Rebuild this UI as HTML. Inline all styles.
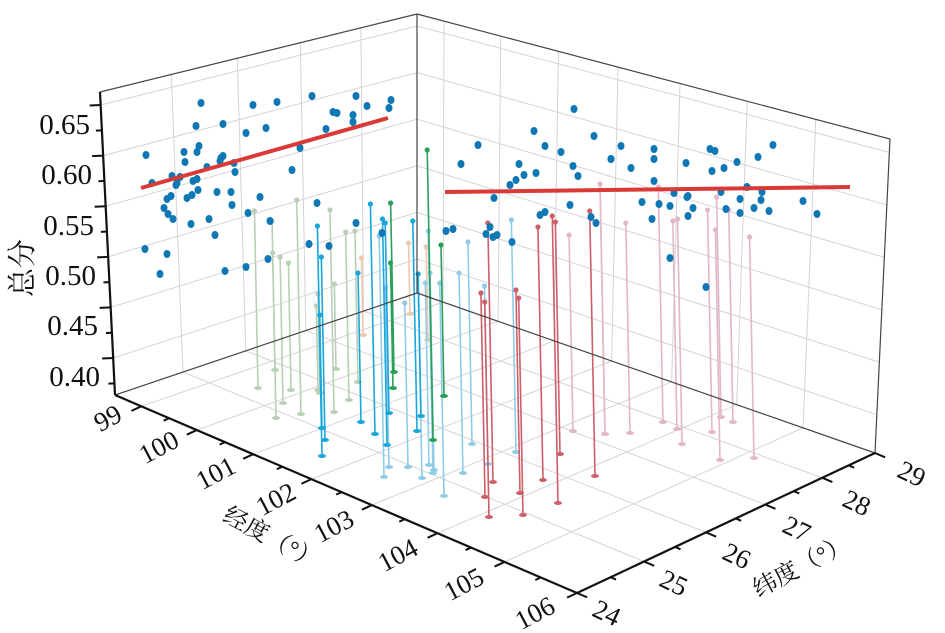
<!DOCTYPE html>
<html><head><meta charset="utf-8"><style>
html,body{margin:0;padding:0;background:#fff;}
svg{display:block;}
text{font-family:"Liberation Serif","Noto Serif CJK SC",serif;fill:#111;}
</style></head><body>
<svg id="s" width="945" height="633" viewBox="0 0 945 633" xmlns="http://www.w3.org/2000/svg">
<g id="grid"></g><g id="stems"></g><g id="dots"></g><g id="axes"></g>
<line x1="141" y1="188" x2="388" y2="118" stroke="#d93a35" stroke-width="4"/>
<line x1="445" y1="192" x2="850" y2="187" stroke="#d93a35" stroke-width="4"/>
<g font-size="29" text-anchor="end">
<text x="90" y="134" transform="translate(0,0)">0.65</text>
<text x="92" y="184">0.60</text>
<text x="94" y="235">0.55</text>
<text x="96" y="285">0.50</text>
<text x="98" y="335">0.45</text>
<text x="100" y="386">0.40</text>
</g>
<text transform="translate(32,268) rotate(-90)" font-size="29" text-anchor="middle">总分</text>
<g font-size="27" text-anchor="middle">
<text transform="translate(112,426) rotate(-28)">99</text>
<text transform="translate(163,455) rotate(-28)">100</text>
<text transform="translate(220,481) rotate(-28)">101</text>
<text transform="translate(280,507) rotate(-28)">102</text>
<text transform="translate(338,534) rotate(-28)">103</text>
<text transform="translate(402,563) rotate(-28)">104</text>
<text transform="translate(468,592) rotate(-28)">105</text>
<text transform="translate(539,621) rotate(-28)">106</text>
<text transform="translate(603,621) rotate(25)">24</text>
<text transform="translate(670,591) rotate(25)">25</text>
<text transform="translate(733,564) rotate(25)">26</text>
<text transform="translate(793,537) rotate(25)">27</text>
<text transform="translate(853,511) rotate(25)">28</text>
<text transform="translate(908,482) rotate(25)">29</text>
</g>
<text transform="translate(268,545) rotate(28)" font-size="24" text-anchor="middle">经度（°）</text>
<text transform="translate(805,573) rotate(-28)" font-size="24" text-anchor="middle">纬度（°）</text>
</svg>
<script>
var NS="http://www.w3.org/2000/svg";
function el(p,t,a){var e=document.createElementNS(NS,t);for(var k in a)e.setAttribute(k,a[k]);document.getElementById(p).appendChild(e);return e;}
var L=[115,395],F=[577,593],B=[417,293],R=[875,453];
var TL=[100,92],TF=[575,235],TB=[417,14],TR=[890,139];
function bl(a,b,c,d,u,w){return [a[0]*(1-u)*(1-w)+b[0]*u*(1-w)+c[0]*(1-u)*w+d[0]*u*w, a[1]*(1-u)*(1-w)+b[1]*u*(1-w)+c[1]*(1-u)*w+d[1]*u*w];}
function P(u,w,f){var a=bl(L,F,B,R,u,w),b=bl(TL,TF,TB,TR,u,w);return [a[0]+(b[0]-a[0])*f,a[1]+(b[1]-a[1])*f];}
var UF=[0,.057,.177,.299,.425,.556,.698,.843,1];
var WF=[0,.225,.433,.632,.823,1];
function zf(v){return 0.122+(v-0.40)/0.05*0.167;}
var ZV=[0.40,0.45,0.50,0.55,0.60,0.65];
function ln(g,p,q,c,w){el(g,"line",{x1:p[0],y1:p[1],x2:q[0],y2:q[1],stroke:c,"stroke-width":w});}
var gc="#d4d4d8";
WF.forEach(function(w,i){if(i>0&&i<5)ln("grid",P(0,w,0),P(0,w,1),gc,1);});
ZV.forEach(function(v){ln("grid",P(0,0,zf(v)),P(0,1,zf(v)),gc,1);});
UF.forEach(function(u,i){if(i>0&&i<8)ln("grid",P(u,1,0),P(u,1,1),gc,1);});
ZV.forEach(function(v){ln("grid",P(0,1,zf(v)),P(1,1,zf(v)),gc,1);});
UF.forEach(function(u,i){if(i>0&&i<8)ln("grid",P(u,0,0),P(u,1,0),gc,1);});
WF.forEach(function(w,i){if(i>0&&i<5)ln("grid",P(0,w,0),P(1,w,0),gc,1);});
var ec="#444";
ln("axes",TL,TB,ec,1.2);ln("axes",TB,TR,ec,1.2);ln("axes",TB,B,ec,1.2);
ln("axes",L,B,ec,1.2);ln("axes",B,R,ec,1.2);ln("axes",TR,R,ec,1.2);
ln("axes",TL,L,"#111",2.2);ln("axes",L,F,"#111",2.2);ln("axes",F,R,"#111",2.2);
for(var v=0.375;v<=0.66;v+=0.025){var p=P(0,0,zf(v));var maj=Math.abs((v*1000)%50)<1||Math.abs((v*1000)%50-50)<1;ln("axes",p,[p[0]-(maj?11:6),p[1]+(maj?0.5:0.3)],"#111",2);}
var od=[-0.9,0.42];
for(var i=1;i<UF.length;i++){var p=P(UF[i],0,0);ln("axes",p,[p[0]+od[0]*11,p[1]+od[1]*11],"#111",2);var m=P((UF[i]+UF[i-1])/2,0,0);if(i>1)ln("axes",m,[m[0]+od[0]*6,m[1]+od[1]*6],"#111",2);}
var od2=[0.92,0.39];
for(var i=0;i<WF.length;i++){var p=P(1,WF[i],0);ln("axes",p,[p[0]+od2[0]*11,p[1]+od2[1]*11],"#111",2);if(i>0){var m=P(1,(WF[i]+WF[i-1])/2,0);ln("axes",m,[m[0]+od2[0]*6,m[1]+od2[1]*6],"#111",2);}}
var C={S:"#b9cfb6",B:"#1aa5db",L:"#90cce8",G:"#2a9f5a",P:"#efc9ad",R:"#cd5f68",K:"#e2b7c6"};
var st=[
["S",258,211,388],["S",276,221,418],["S",275,253,370],["S",283,257,403],["S",291,263,390],["S",301,200,414],["S",334,210,412],["S",336,284,369],["S",349,232,400],["S",358,231,382],["S",320,294,393],["S",318,306,390],
["P",363,258,335],["P",410,243,314],["P",428,247,340],
["K",573,235,431],["K",605,184,434],["K",630,223,433],["K",663,187,422],["K",677,221,429],["K",682,219,444],["K",712,210,432],["K",721,197,417],["K",720,230,460],["K",733,210,422],["K",754,237,458],
["L",384,236,477],["L",389,288,467],["L",408,303,467],["L",433,231,473],["L",429,283,465],["L",434,273,470],["L",444,283,496],["L",463,273,473],["L",472,242,444],["L",516,220,452],["L",488,286,464],["L",422,274,478],
["G",394,203,372],["G",393,263,388],["G",433,150,440],["G",444,245,396],
["B",322,226,456],["B",325,257,440],["B",322,315,428],["B",375,204,434],["B",361,273,422],["B",387,219,445],["B",389,223,413],["B",417,221,431],["B",421,274,416],
["R",485,293,497],["R",489,302,517],["R",493,223,482],["R",520,290,493],["R",523,298,515],["R",543,227,480],["R",558,216,503],["R",560,222,454],["R",595,211,476],
["K",605,184,434]];
st.forEach(function(s){var c=C[s[0]];var xb=s[1];var xt=s[1]-(s[3]-s[2])*0.02;
el("stems","line",{x1:xt,y1:s[2],x2:xb,y2:s[3],stroke:c,"stroke-width":1.6});
el("stems","ellipse",{cx:xt,cy:s[2],rx:2.6,ry:2.6,fill:c});
el("stems","ellipse",{cx:xb,cy:s[3],rx:4,ry:2,fill:c});});
var d=[[146,155],[152,183],[201,103],[196,126],[223,124],[253,105],[277,102],[312,96],[356,96],[367,106],[391,100],[389,108],[333,112],[337,113],[353,115],[353,122],[326,129],[266,128],[246,133],[199,146],[197,152],[184,152],[185,162],[221,158],[223,156],[220,161],[207,167],[234,163],[235,172],[300,148],[292,170],[172,176],[180,177],[177,183],[176,185],[193,181],[197,179],[198,190],[171,196],[167,199],[164,208],[168,214],[173,219],[187,198],[192,195],[217,192],[231,192],[232,205],[260,197],[209,219],[191,224],[248,213],[215,235],[270,221],[317,203],[356,223],[329,246],[309,244],[145,249],[167,254],[160,274],[225,271],[246,267],[268,259],[382,233],
[574,109],[534,131],[594,136],[478,145],[545,146],[561,152],[461,164],[611,159],[519,164],[524,175],[536,173],[573,166],[578,176],[516,180],[510,185],[494,198],[570,205],[540,215],[545,212],[591,217],[596,223],[446,231],[453,229],[490,227],[486,234],[493,237],[497,235],[512,242],
[621,146],[611,159],[631,168],[654,149],[654,159],[654,181],[710,149],[715,151],[686,163],[712,171],[724,168],[737,162],[758,157],[773,145],[747,187],[762,192],[761,200],[740,199],[721,192],[688,196],[687,197],[674,193],[642,202],[659,204],[670,206],[693,208],[726,209],[740,213],[754,208],[769,211],[803,201],[817,214],[652,219],[688,216],[670,258],[706,287]];
d.forEach(function(p){el("dots","ellipse",{cx:p[0],cy:p[1],rx:3.5,ry:4,fill:"#0f77b4"});});
</script>
</body></html>
